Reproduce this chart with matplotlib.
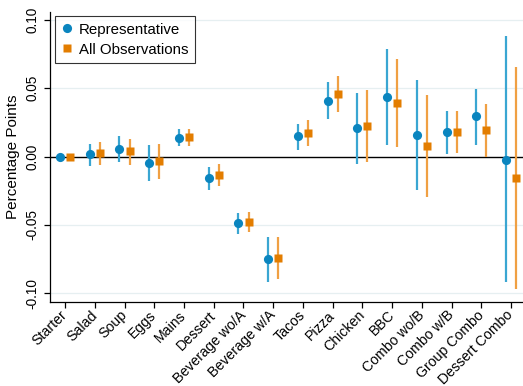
import numpy as np
import matplotlib
matplotlib.use('Agg')
import matplotlib.pyplot as plt

plt.rcParams['font.family'] = ['Liberation Sans', 'DejaVu Sans']

categories = ['Starter', 'Salad', 'Soup', 'Eggs', 'Mains', 'Dessert',
              'Beverage wo/A', 'Beverage w/A', 'Tacos', 'Pizza', 'Chicken',
              'BBC', 'Combo wo/B', 'Combo w/B', 'Group Combo', 'Dessert Combo']

# Representative sample: estimate, CI low, CI high
rep_est = [0.0, 0.0015, 0.0054, -0.0044, 0.0137, -0.016, -0.0483, -0.0752,
           0.0147, 0.041, 0.0208, 0.0436, 0.0159, 0.0176, 0.0294, -0.0022]
rep_lo = [0.0, -0.0066, -0.0042, -0.0182, 0.0074, -0.0245, -0.0564, -0.0917,
          0.0051, 0.0274, -0.0054, 0.0086, -0.0245, 0.002, 0.0086, -0.0919]
rep_hi = [0.0, 0.0093, 0.0147, 0.0088, 0.0204, -0.0074, -0.041, -0.0588,
          0.024, 0.0544, 0.0468, 0.0784, 0.0559, 0.0331, 0.0498, 0.0882]

# All observations: estimate, CI low, CI high
all_est = [-0.0003, 0.0024, 0.0037, -0.0034, 0.0142, -0.0137, -0.0481, -0.074,
           0.0171, 0.0458, 0.0223, 0.0392, 0.0076, 0.0179, 0.0193, -0.016]
all_lo = [-0.0003, -0.0059, -0.0059, -0.0164, 0.0076, -0.0218, -0.0556, -0.0895,
          0.0076, 0.0328, -0.0039, 0.0069, -0.0299, 0.0027, 0.0, -0.0973]
all_hi = [-0.0003, 0.0103, 0.013, 0.0093, 0.0204, -0.0054, -0.0404, -0.0588,
          0.0265, 0.0588, 0.0485, 0.0711, 0.0453, 0.0331, 0.0387, 0.0652]

blue = '#0a85bf'
orange = '#e37d00'

x = np.arange(len(categories))
off = 0.17

fig = plt.figure(figsize=(5.23, 3.86), dpi=100)
ax = fig.add_axes([0.096, 0.2176, 0.904, 0.752])

for yv in [-0.1, -0.05, 0.05, 0.1]:
    ax.axhline(yv, color='#e6eff1', lw=0.9, zorder=0)
ax.axhline(0, color='black', lw=1.0, zorder=1)

ax.vlines(x - off, rep_lo, rep_hi, color='#3aa6d2', lw=1.6, zorder=2)
ax.vlines(x + off, all_lo, all_hi, color='#f0a043', lw=1.6, zorder=2)
ax.plot(x - off, rep_est, 'o', color=blue, ms=6.6, mec='none', zorder=3,
        label='Representative')
ax.plot(x + off, all_est, 's', color=orange, ms=6.4, mec='none', zorder=3,
        label='All Observations')

ax.set_xlim(-0.5, 15.4)
ax.set_ylim(-0.1065, 0.106)
ax.set_yticks([-0.1, -0.05, 0, 0.05, 0.1])
ax.set_yticklabels(['-0.10', '-0.05', '0.00', '0.05', '0.10'], rotation=90,
                   va='center', fontsize=9.8)
ax.set_xticks(x)
ax.set_xticklabels(categories, rotation=45, ha='right', va='center',
                   rotation_mode='anchor', fontsize=10.2)
ax.tick_params(axis='both', length=4, width=0.9, colors='black')
ax.tick_params(axis='x', pad=4)
ax.set_ylabel('Percentage Points', fontsize=11, labelpad=4)

for s in ['top', 'right']:
    ax.spines[s].set_visible(False)
for s in ['left', 'bottom']:
    ax.spines[s].set_linewidth(0.9)

leg = ax.legend(loc='upper left', bbox_to_anchor=(0.0, 1.0), fontsize=10.8,
                frameon=True, fancybox=False, edgecolor='black',
                handlelength=0.8, handletextpad=0.4, borderpad=0.42,
                borderaxespad=0.3, labelspacing=0.4)
leg.get_frame().set_linewidth(0.8)

fig.savefig('out.png', dpi=100)
